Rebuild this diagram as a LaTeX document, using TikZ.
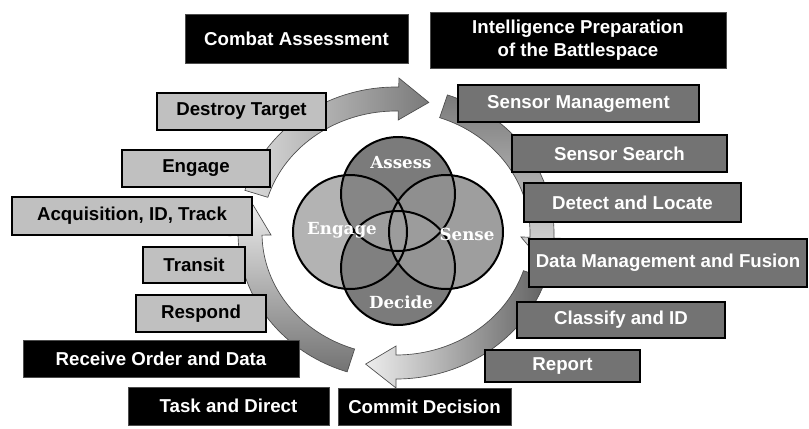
\documentclass[tikz,border=0pt]{standalone}
\usepackage{fontspec}
\setmainfont{Liberation Sans}
\newfontfamily\vennfont{DejaVu Serif}
\definecolor{lightbox}{HTML}{C0C0C0}
\definecolor{darkbox}{HTML}{737373}
\definecolor{vdark}{HTML}{7B7B7B}
\definecolor{veng}{HTML}{B3B3B3}
\definecolor{vsen}{HTML}{9E9E9E}
\definecolor{vae}{HTML}{868686}
\definecolor{vas}{HTML}{8F8F8F}
\definecolor{vde}{HTML}{808080}
\definecolor{vds}{HTML}{949494}
\definecolor{vmid}{HTML}{9C9C9C}
\tikzset{
  boxtext/.style={font=\bfseries\fontsize{14}{17}\selectfont, align=center, inner sep=0pt},
  blk/.style={boxtext, draw=black!70, line width=0.6pt, fill=black, text=white},
  lgt/.style={boxtext, draw=black, line width=1.3pt, fill=lightbox, text=black},
  drk/.style={boxtext, draw=black, line width=1.3pt, fill=darkbox, text=white},
  ringarr/.style={draw=black!70, line width=0.5pt},
  vennline/.style={draw=black, line width=1.5pt},
  vennlab/.style={text=white, font=\vennfont\bfseries\fontsize{12.5}{14}\selectfont, inner sep=0pt}
}
\newcommand\mybox[7]{\node[#1, minimum width={(#5-#3)*0.75pt}, minimum height={(#6-#4)*0.75pt}] (#2) at ({(#3+#5)/2},{(#4+#6)/2}) {#7};}
\newcommand\ringarrow[4]{%
  \path[ringarr,#1] (#2:158 and 146) arc[start angle=#2, end angle=#3, x radius=158, y radius=146]
    -- (#3:167 and 155) -- (#4:146 and 134) -- (#3:125 and 113) -- (#3:134 and 122)
    arc[start angle=#3, end angle=#2, x radius=134, y radius=122] -- cycle;}
\begin{document}
\begin{tikzpicture}[x=0.75pt, y=-0.75pt]
\useasboundingbox (0,0) rectangle (809,428);
\fill[white] (0,0) rectangle (809,428);

% ring of arrows
\begin{scope}[shift={(396,233)}]
  \ringarrow{left color=black!14, right color=black!52}{197}{271}{283}
  \ringarrow{top color=black!52, bottom color=black!15}{289}{362}{371}
  \ringarrow{right color=black!62, left color=black!7}{378}{450}{462}
  \ringarrow{bottom color=black!55, top color=black!8}{108}{179}{192}
\end{scope}

% Venn diagram
\coordinate (cA) at (398,194);
\coordinate (cD) at (398,268);
\coordinate (cE) at (350,232);
\coordinate (cS) at (446,232);
\fill[vdark] (cA) circle[radius=57];
\fill[vdark] (cD) circle[radius=57];
\fill[veng] (cE) circle[radius=57];
\fill[vsen] (cS) circle[radius=57];
\begin{scope}\clip (cA) circle[radius=57]; \fill[vae] (cE) circle[radius=57]; \fill[vas] (cS) circle[radius=57]; \end{scope}
\begin{scope}\clip (cD) circle[radius=57]; \fill[vde] (cE) circle[radius=57]; \fill[vds] (cS) circle[radius=57]; \end{scope}
\begin{scope}\clip (cA) circle[radius=57]; \fill[vmid] (cD) circle[radius=57]; \end{scope}
\draw[vennline] (cA) circle[radius=57];
\draw[vennline] (cD) circle[radius=57];
\draw[vennline] (cE) circle[radius=57];
\draw[vennline] (cS) circle[radius=57];
\node[vennlab] (lA) at (401,163) {Assess};
\node[vennlab] (lE) at (342,230) {Engage};
\node[vennlab] (lS) at (467,234) {Sense};
\node[vennlab] (lD) at (401,302) {Decide};

% boxes
\mybox{blk}{ca}{185}{14}{408}{63}{Combat Assessment}
\mybox{blk}{ipb}{430}{12}{726}{68}{Intelligence Preparation\\of the Battlespace}
\mybox{lgt}{dt}{157}{93}{326}{130}{Destroy Target}
\mybox{lgt}{en}{122}{150}{270}{187}{Engage}
\mybox{lgt}{ac}{12}{197}{252}{235}{Acquisition, ID, Track}
\mybox{lgt}{tr}{143}{247}{245}{283}{Transit}
\mybox{lgt}{re}{136}{295}{266}{332}{Respond}
\mybox{blk}{ro}{23}{340}{299}{377}{Receive Order and Data}
\mybox{blk}{td}{128}{387}{329}{425}{Task and Direct}
\mybox{blk}{cd}{338}{388}{511}{425}{Commit Decision}
\mybox{drk}{sm}{458}{85}{699}{122}{Sensor Management}
\mybox{drk}{ss}{512}{135}{727}{172}{Sensor Search}
\mybox{drk}{dl}{524}{183}{741}{222}{Detect and Locate}
\mybox{drk}{dm}{529}{239}{807}{287}{Data Management and Fusion}
\mybox{drk}{ci}{517}{302}{725}{338}{Classify and ID}
\mybox{drk}{rp}{485}{350}{640}{382}{Report}
\end{tikzpicture}
\end{document}
